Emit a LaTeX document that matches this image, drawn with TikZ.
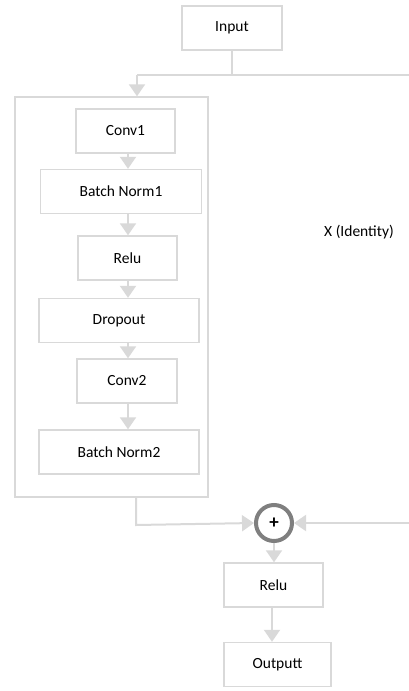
\documentclass[tikz,border=0pt]{standalone}
\usepackage{fontspec}
\setmainfont{Carlito}
\usetikzlibrary{arrows.meta,positioning}
\definecolor{boxgray}{HTML}{D9D9D9}
\definecolor{ringgray}{HTML}{7F7F7F}

\begin{document}
\begin{tikzpicture}
  [x=1pt,y=-1pt,
   every node/.style={font=\fontsize{15.5}{18}\selectfont,text=black},
   layer/.style={draw=boxgray,line width=1.4pt,minimum height=44pt},
   flow/.style={draw=boxgray,line width=2pt,-{Triangle[width=16pt,length=12pt]}},
   wire/.style={draw=boxgray,line width=2pt}]
  \useasboundingbox (0,0) rectangle (409,691);

  \node[layer,minimum width=100pt] (in) at (232,28) {Input};
  \node[draw=boxgray,line width=1.4pt,minimum width=193pt,minimum height=400pt] (block) at (111.5,297) {};
  \node[layer,minimum width=99pt] (conv1) at (125.5,131) {Conv1};
  \node[layer,minimum width=161pt] (bn1) at (121,191.5) {Batch Norm1};
  \node[layer,minimum width=99pt] (relu1) at (127.5,258) {Relu};
  \node[layer,minimum width=160pt] (drop) at (119,320.5) {Dropout};
  \node[layer,minimum width=100pt] (conv2) at (127,381) {Conv2};
  \node[layer,minimum width=160pt] (bn2) at (119,452) {Batch Norm2};
  \node[circle,draw=ringgray,line width=4pt,minimum size=36pt,inner sep=0pt,font=\fontsize{19}{20}\selectfont\bfseries] (plus) at (274,523) {+};
  \node[layer,minimum width=99pt] (relu2) at (273.5,585) {Relu};
  \node[layer,minimum width=107pt] (out) at (277.5,664.5) {Outputt};
  \node (ident) at (359,232) {X (Identity)};

  \coordinate (spine) at (128,0);
  \coordinate (split) at (232,75);
  \coordinate (topL) at (137,75);
  \coordinate (topR) at (409,75);
  \coordinate (botL) at (136,525);
  \coordinate (botR) at (409,523);

  % input to block, and the identity branch
  \draw[wire] (in.south) -- (split);
  \draw[wire] (topL) -- (topR);
  \draw[flow] (topL) -- (block.north -| topL);

  \foreach \from/\to in {conv1/bn1,bn1/relu1,relu1/drop,drop/conv2,conv2/bn2}
    \draw[flow] (\from.south -| spine) -- (\to.north -| spine);

  % adding the two branches
  \draw[flow] (block.south -| botL) -- (botL) -- (plus.west);
  \draw[flow] (botR) -- (plus.east);
  \draw[flow] (plus.south) -- (plus.south |- relu2.north);
  \draw[flow] (relu2.south -| 272,0) -- (out.north -| 272,0);

\end{tikzpicture}
\end{document}
